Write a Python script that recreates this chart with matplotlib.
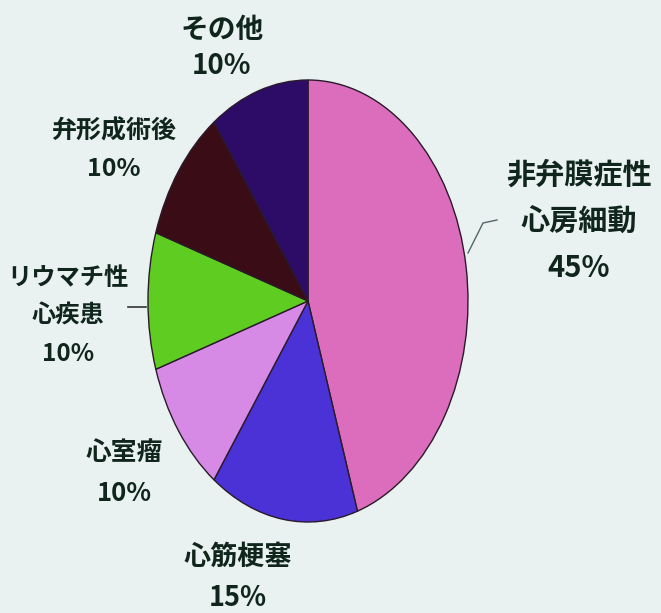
import matplotlib
matplotlib.use("Agg")
import matplotlib.pyplot as plt

plt.rcParams['font.family'] = ['Noto Sans CJK JP', 'DejaVu Sans']

# 非弁膜症性心房細動 から時計回り
labels = ["非弁膜症性\n心房細動", "心筋梗塞", "心室瘤", "リウマチ性\n心疾患", "弁形成術後", "その他"]
shares = [45, 15, 10, 10, 10, 10]
colors = ["#dc6cbc", "#4a32d6", "#d68ae6", "#5fcc22", "#3a0c16", "#2c0c66"]

W, H = 661, 613
fig = plt.figure(figsize=(W / 100, H / 100), dpi=100)
fig.patch.set_facecolor("#e9f1f1")

# elliptical pie (slide photographed at an angle)
left, right, top, bottom = 148, 468, 80, 522
ax = fig.add_axes([left / W, 1 - bottom / H, (right - left) / W, (bottom - top) / H])
ax.pie(shares, colors=colors, startangle=90, counterclock=False,
       wedgeprops=dict(edgecolor="#2a1a2a", linewidth=1.0))
ax.set_aspect("auto")
ax.set_xlim(-1, 1)
ax.set_ylim(-1, 1)
ax.axis("off")

# label placement: pixel centre x, y, font size, line spacing
label_pos = [(579, 221, 21, 1.7), (238, 577, 19.5, 1.6), (124, 473, 18.5, 1.7),
             (68, 316, 17.5, 1.74), (114, 150, 18, 1.74), (222, 48, 20, 1.4)]
txt_color = "#10261c"
for lab, val, (px, py, fs, ls) in zip(labels, shares, label_pos):
    fig.text(px / W, 1 - py / H, f"{lab}\n{val}%", ha="center", va="center",
             fontsize=fs, fontweight="bold", color=txt_color, linespacing=ls)

# leader lines
lines = fig.add_axes([0, 0, 1, 1], facecolor="none")
lines.set_xlim(0, W)
lines.set_ylim(H, 0)
lines.axis("off")
lines.plot([128, 146], [307, 307], color="#333333", lw=1.2)
lines.plot([468, 483, 497], [253, 223, 220], color="#556666", lw=1.0)

fig.savefig("out.png", dpi=100, facecolor=fig.get_facecolor())
